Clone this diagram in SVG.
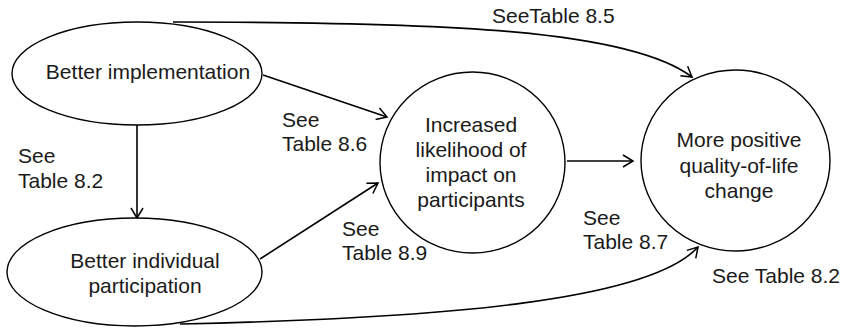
<svg xmlns="http://www.w3.org/2000/svg" width="850" height="328" viewBox="0 0 850 328">
<style>
.n{fill:#fff;stroke:#000;stroke-width:1.4}
.t{font-family:"Liberation Sans",Arial,sans-serif;font-size:21px;fill:#1a1a1a}
.m{text-anchor:middle}
.c{fill:none;stroke:#000;stroke-width:1.6}
</style>
<defs>
<marker id="a" markerWidth="14" markerHeight="14" refX="12" refY="7" orient="auto" markerUnits="userSpaceOnUse">
<path d="M2,1 L12,7 L2,13" fill="none" stroke="#000" stroke-width="1.5"/>
</marker>
</defs>
<rect width="850" height="328" fill="#fff"/>
<g id="connectors">
<path class="c" d="M173,22 C450,22 630,30 692,77" marker-end="url(#a)"/>
<path class="c" d="M263,75 L387,117" marker-end="url(#a)"/>
<path class="c" d="M137,125 L137,218" marker-end="url(#a)"/>
<path class="c" d="M260,259 L378,183" marker-end="url(#a)"/>
<path class="c" d="M567,161 L633,161" marker-end="url(#a)"/>
<path class="c" d="M180,324 C450,318 650,300 698,247" marker-end="url(#a)"/>
</g>
<g id="labels">
<text class="t" x="492" y="23">SeeTable 8.5</text>
<text class="t" x="282" y="127">See</text>
<text class="t" x="282" y="151">Table 8.6</text>
<text class="t" x="18" y="163">See</text>
<text class="t" x="18" y="188">Table 8.2</text>
<text class="t" x="342" y="236">See</text>
<text class="t" x="342" y="260">Table 8.9</text>
<text class="t" x="583" y="225">See</text>
<text class="t" x="583" y="249">Table 8.7</text>
<text class="t" x="712" y="283">See Table 8.2</text>
</g>
<g id="n1">
<ellipse class="n" cx="137" cy="73.5" rx="125" ry="51.5"/>
<text class="t m" x="148" y="79">Better implementation</text>
</g>
<g id="n2">
<ellipse class="n" cx="134.5" cy="272" rx="127.5" ry="54"/>
<text class="t m" x="145" y="268">Better individual</text>
<text class="t m" x="145" y="293">participation</text>
</g>
<g id="n3">
<ellipse class="n" cx="472.5" cy="162.5" rx="92.5" ry="90.5"/>
<text class="t m" x="471" y="132">Increased</text>
<text class="t m" x="471" y="157">likelihood of</text>
<text class="t m" x="471" y="182">impact on</text>
<text class="t m" x="471" y="207">participants</text>
</g>
<g id="n4">
<ellipse class="n" cx="735.5" cy="160.5" rx="94.5" ry="90.5"/>
<text class="t m" x="739" y="147">More positive</text>
<text class="t m" x="739" y="173">quality-of-life</text>
<text class="t m" x="739" y="198">change</text>
</g>
</svg>
